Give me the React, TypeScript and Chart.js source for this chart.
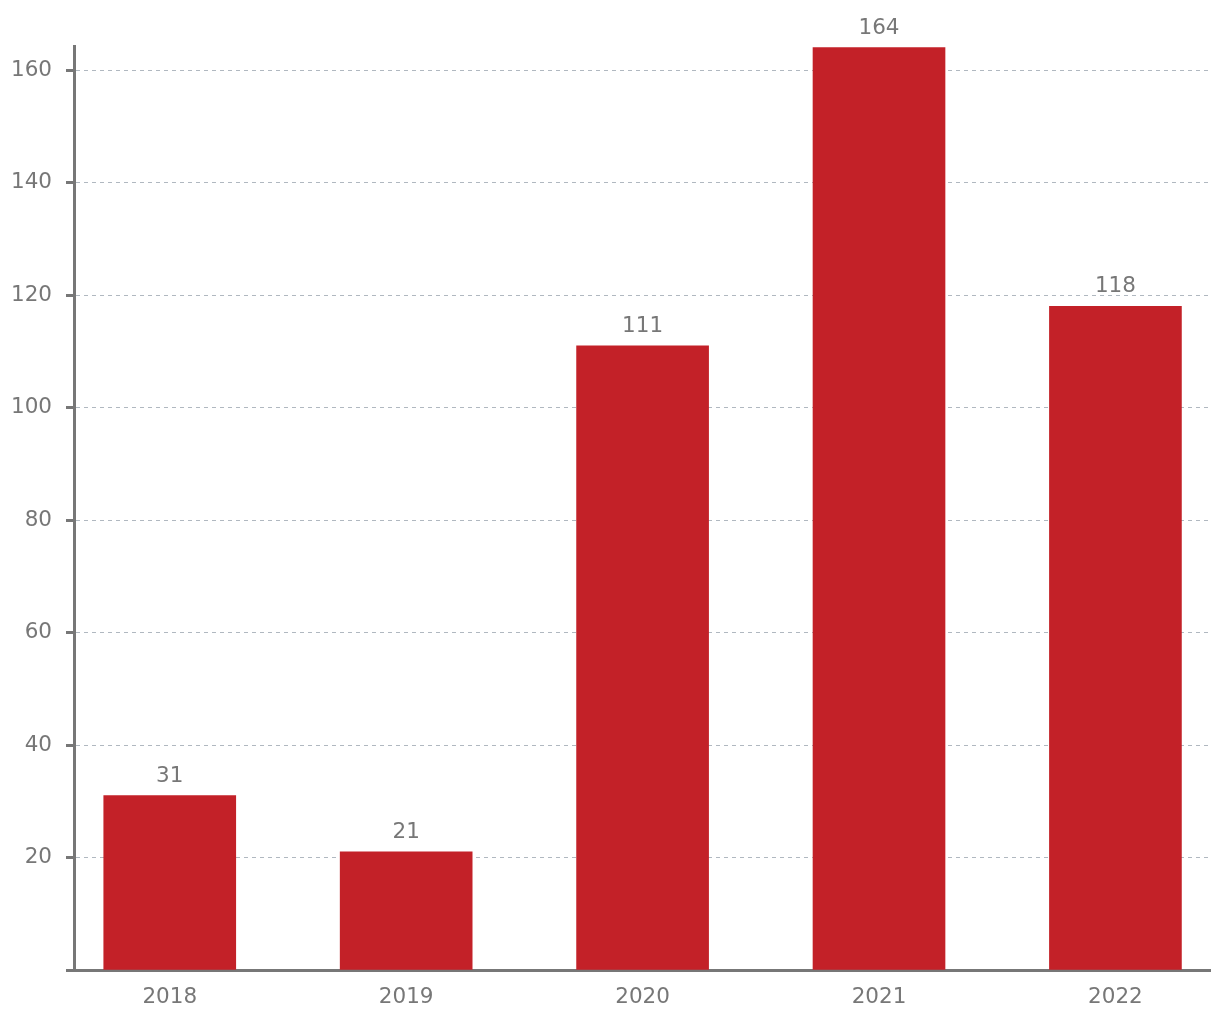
import React, { useEffect, useRef } from "react";
import { Chart, registerables } from "chart.js";

Chart.register(...registerables);

const categories = ["2018", "2019", "2020", "2021", "2022"];
const values = [31, 21, 111, 164, 118];
const yTicks = [0, 20, 40, 60, 80, 100, 120, 140, 160];

const FONT = "'DejaVu Sans', Verdana, sans-serif";
const TEXT = "#777777";
const AXIS = "#777777";
const BAR = "#C32128";

const valueLabels = {
  id: "valueLabels",
  afterDatasetsDraw(chart: any) {
    const ctx = chart.ctx;
    const meta = chart.getDatasetMeta(0);
    ctx.save();
    ctx.font = `21.5px ${FONT}`;
    ctx.fillStyle = TEXT;
    ctx.textAlign = "center";
    ctx.textBaseline = "alphabetic";
    meta.data.forEach((el: any, i: number) => {
      ctx.fillText(String(values[i]), el.x, el.y - 14);
    });
    ctx.restore();
  },
};

export default function App() {
  const ref = useRef<HTMLCanvasElement | null>(null);
  useEffect(() => {
    if (!ref.current) return;
    const chart = new Chart(ref.current, {
      type: "bar",
      data: {
        datasets: [
          {
            data: values.map((v, i) => ({ x: i, y: v })),
            backgroundColor: BAR,
            borderWidth: 0,
            barThickness: 132,
          },
        ],
      },
      options: {
        animation: false,
        responsive: false,
        maintainAspectRatio: false,
        layout: { padding: { top: 46, right: 10, left: 0, bottom: 0 } },
        plugins: {
          legend: { display: false },
          tooltip: { enabled: false },
        },
        scales: {
          x: {
            type: "linear",
            offset: false,
            min: -0.405,
            max: 4.4,
            afterBuildTicks: (axis: any) => {
              axis.ticks = categories.map((_, i) => ({ value: i }));
            },
            afterFit: (s: any) => {
              s.height = 50;
            },
            grid: { display: false, drawTicks: false, offset: false },
            border: { display: true, color: AXIS, width: 3 },
            ticks: {
              padding: 15,
              color: TEXT,
              font: { family: FONT, size: 21.5 },
              maxRotation: 0,
              autoSkip: false,
              callback: (v: any) => categories[Math.round(Number(v))] ?? "",
            },
          },
          y: {
            type: "linear",
            min: 0,
            max: 164.3,
            afterBuildTicks: (axis: any) => {
              axis.ticks = yTicks.map((v) => ({ value: v }));
            },
            afterFit: (s: any) => {
              s.width = 74;
            },
            grid: {
              color: "#B0B8C0",
              lineWidth: 1,
              drawTicks: true,
              tickLength: 8,
              tickColor: AXIS,
              tickWidth: 3,
              tickBorderDash: [],
            },
            border: { display: true, color: AXIS, width: 3, dash: [4, 4] },
            ticks: {
              padding: 14,
              color: TEXT,
              font: { family: FONT, size: 21.5 },
              callback: (v: any) => (Number(v) === 0 ? "" : String(v)),
            },
          },
        },
      },
      plugins: [valueLabels],
    } as any);
    return () => chart.destroy();
  }, []);
  return (
    <div style={{ position: "fixed", left: 0, top: 0, width: 1220, height: 1020, background: "#fff" }}>
      <canvas ref={ref} width={1220} height={1020} style={{ width: 1220, height: 1020, display: "block" }} />
    </div>
  );
}
